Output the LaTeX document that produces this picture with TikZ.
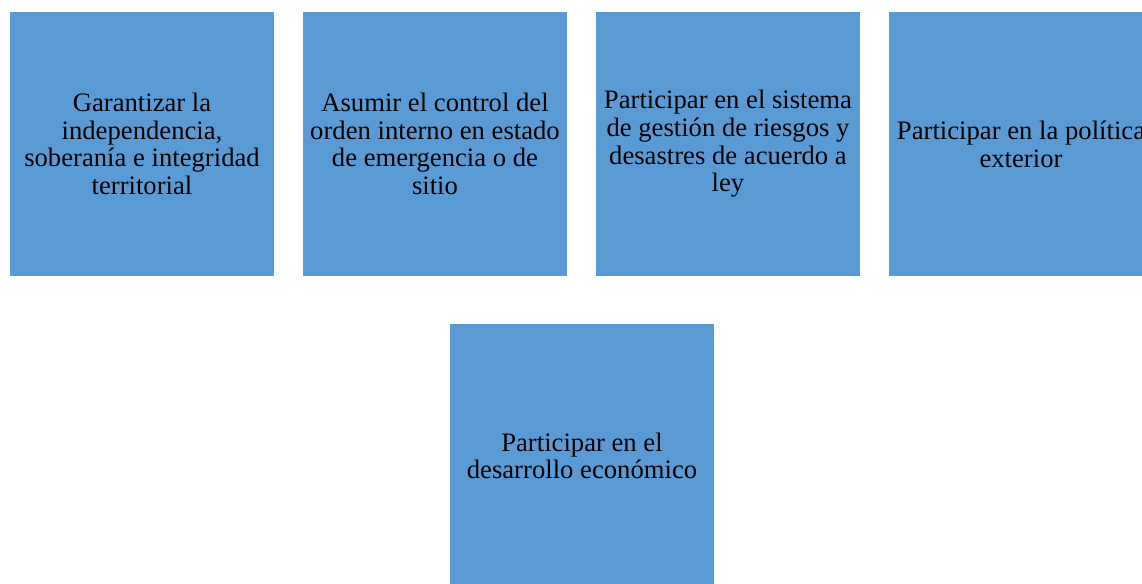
\documentclass[tikz,border=0pt]{standalone}
\usepackage{fontspec}
\setmainfont{Liberation Serif}
\definecolor{boxblue}{HTML}{5B9BD5}
\begin{document}
\begin{tikzpicture}[
    x=0.75pt, y=0.75pt,
    every node/.style={font=\fontsize{20}{20.8}\selectfont},
    goal/.style={rectangle,fill=boxblue,minimum size=198pt,inner sep=0pt,align=center},
  ]
  \useasboundingbox (0,0) rectangle (1142,-584);
  \clip (0,0) rectangle (1142,-584);

  % Top row
  \node[goal] (G1) at (142,-144) {Garantizar la\\ independencia,\\ soberanía e integridad\\ territorial};
  \node[goal] (G2) at (435,-144) {Asumir el control del\\ orden interno en estado\\ de emergencia o de\\ sitio};
  \node[goal] (G3) at (728,-144) {Participar en el sistema\\ de gestión de riesgos y\\ desastres de acuerdo a\\ ley};
  \node[goal] (G4) at (1021,-144) {Participar en la política\\ exterior};

  % Bottom
  \node[goal] (G5) at (582,-456) {Participar en el\\ desarrollo económico};

\end{tikzpicture}
\end{document}
